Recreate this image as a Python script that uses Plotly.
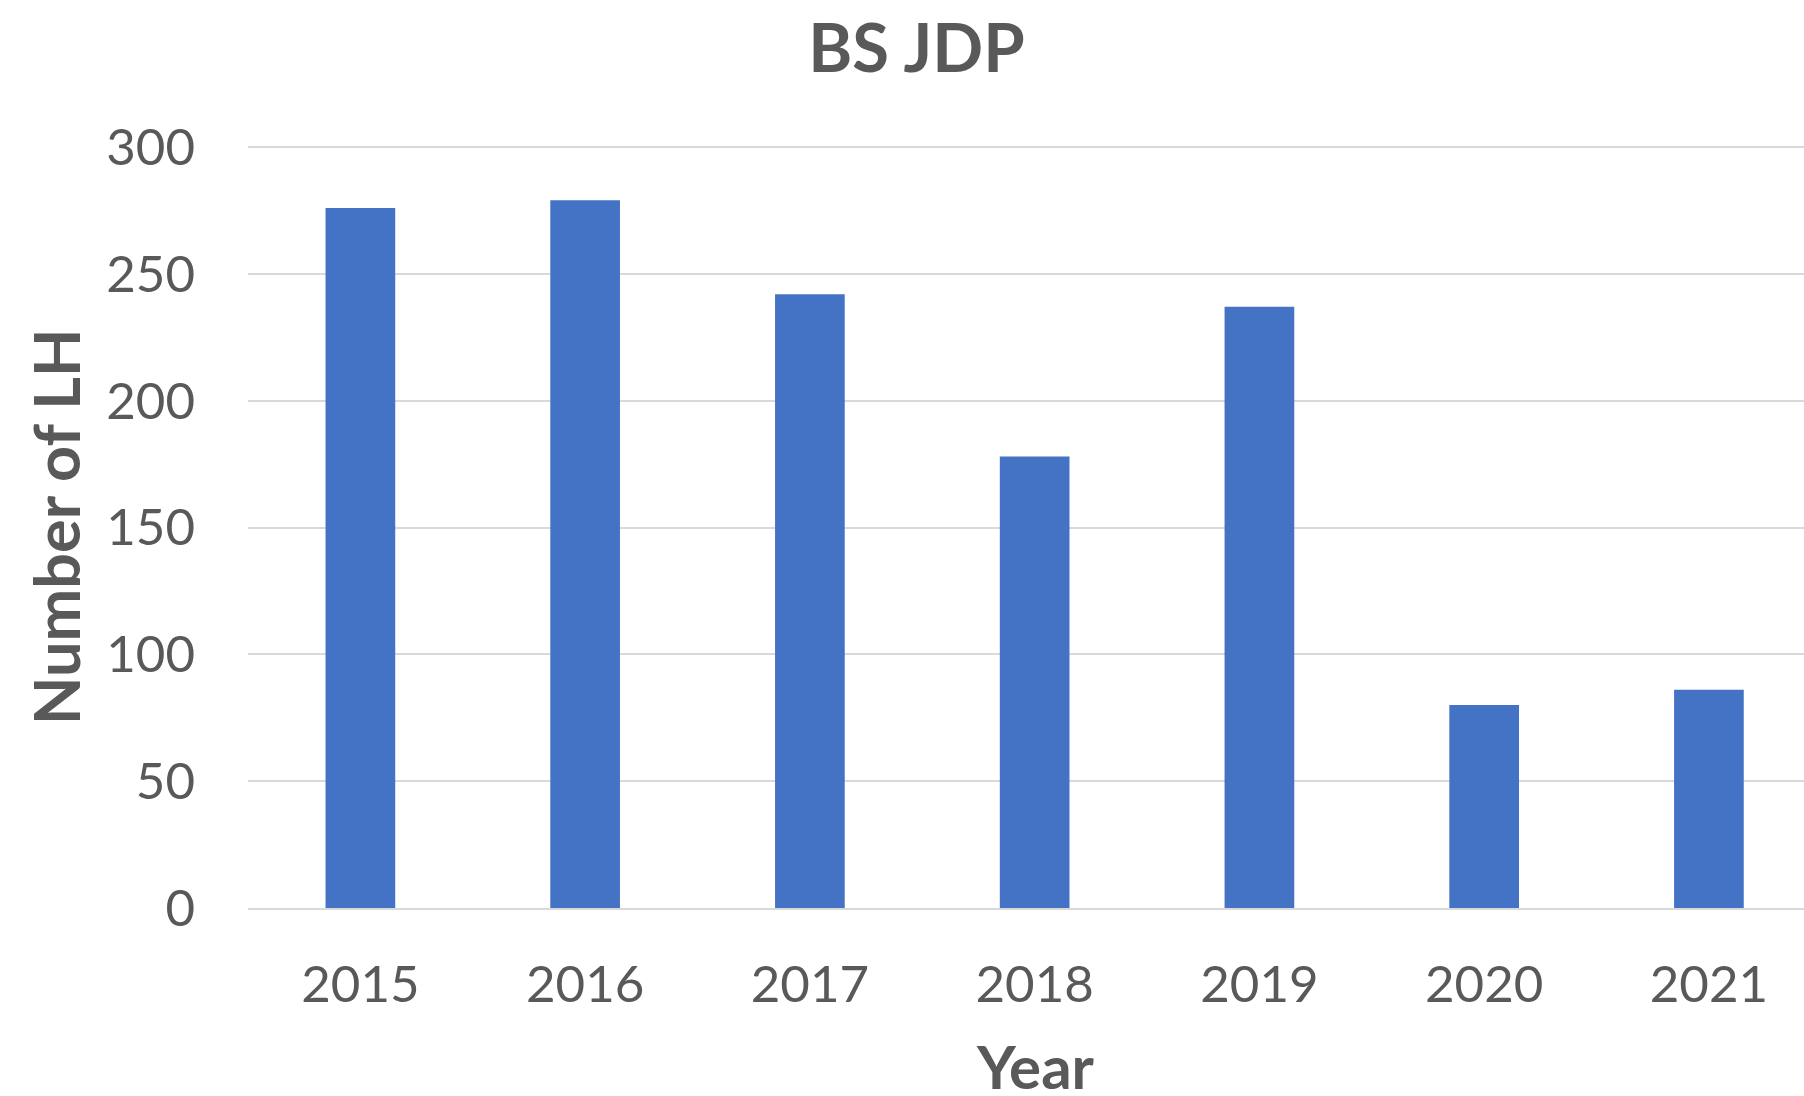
import plotly.graph_objects as go

years = ["2015", "2016", "2017", "2018", "2019", "2020", "2021"]
counts = [276, 279, 242, 178, 237, 80, 86]
y_ticks = [0, 50, 100, 150, 200, 250, 300]

FONT = "Lato"
GREY = "#595959"

fig = go.Figure(go.Bar(
    x=years, y=counts,
    marker=dict(color="#4472C4", line=dict(width=0)),
    width=0.31,
))

fig.update_layout(
    width=1804, height=1096,
    paper_bgcolor="white", plot_bgcolor="white",
    margin=dict(l=248, r=0, t=146, b=188),
    showlegend=False,
    title=dict(text="<b>BS JDP</b>", x=0.508, xanchor="center", y=1 - 49 / 1096, yanchor="middle",
               xref="container", yref="container",
               font=dict(family=FONT, size=67, color=GREY)),
    xaxis=dict(
        type="category", range=[-0.5, 6.423],
        showgrid=False, showline=True, linecolor="#d9d9d9", linewidth=2,
        ticks="", tickfont=dict(family=FONT, size=51, color=GREY),
        ticklabelstandoff=31,
    ),
    yaxis=dict(
        range=[0, 300.4], tickvals=y_ticks,
        showgrid=True, gridcolor="#d9d9d9", gridwidth=2,
        zeroline=False, showline=False, ticks="",
        tickfont=dict(family=FONT, size=51, color=GREY),
        ticklabelstandoff=52,
    ),
    annotations=[
        dict(text="<b>Year</b>", xref="paper", yref="paper", x=0.506, y=0,
             xanchor="center", yanchor="middle", yshift=-158, showarrow=False,
             font=dict(family=FONT, size=60, color=GREY)),
        dict(text="<b>Number of LH</b>", xref="paper", yref="paper", x=0, y=0.5,
             xanchor="center", yanchor="middle", xshift=-193, textangle=-90, showarrow=False,
             font=dict(family=FONT, size=63, color=GREY)),
    ],
)

fig.write_html("out.html", config={"displayModeBar": False},
               post_script="document.body.style.margin='0';document.body.style.overflow='hidden';")
